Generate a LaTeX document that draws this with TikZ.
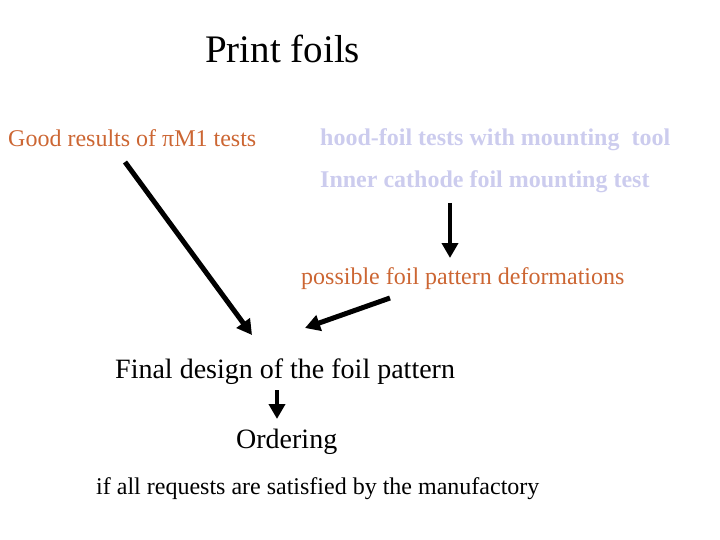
\documentclass[tikz,border=0pt]{standalone}
\usepackage{fontspec}
\setmainfont{Liberation Serif}
\usetikzlibrary{arrows.meta}
\definecolor{rust}{RGB}{204,102,51}
\definecolor{lilac}{RGB}{204,204,238}
\begin{document}
\begin{tikzpicture}[x = 1pt, y = -1pt,
  txt/.style = {anchor = base west, inner sep = 0pt, font = \fontsize{24}{28}\selectfont},
  big/.style = {anchor = base west, inner sep = 0pt, font = \fontsize{28}{32}\selectfont},
  fat/.style = {-{Triangle[length = 15pt, width = 16pt]}, line width = 4pt}]
\useasboundingbox (0,0) rectangle (720,540);
\node[anchor = base west, inner sep = 0pt, font = \fontsize{39}{44}\selectfont] at (205,63) (title) {Print foils};
\node[txt, rust] at (8,147) (good) {Good results of πM1 tests};
\node[txt, lilac, font = \fontsize{24}{28}\selectfont\bfseries] at (320,146) (hood) {hood-foil tests with mounting\ \ tool};
\node[txt, lilac, font = \fontsize{24}{28}\selectfont\bfseries] at (320,188) (inner) {Inner cathode foil mounting test};
\node[txt, rust] at (301,284) (deform) {possible foil pattern deformations};
\node[big] at (115,378) (final) {Final design of the foil pattern};
\node[big] at (236,448) (order) {Ordering};
\node[txt] at (96,494) (cond) {if all requests are satisfied by the manufactory};
\coordinate (g1) at (125,162);
\coordinate (g2) at (252,335);
\coordinate (i1) at (450,203);
\coordinate (i2) at (450,258);
\coordinate (d1) at (390,298);
\coordinate (d2) at (305,328);
\coordinate (f1) at (277,390);
\coordinate (f2) at (277,419);
\draw[fat, line width = 5pt] (g1) -- (g2);
\draw[fat] (i1) -- (i2);
\draw[fat, line width = 5pt] (d1) -- (d2);
\draw[fat] (f1) -- (f2);
\end{tikzpicture}
\end{document}
